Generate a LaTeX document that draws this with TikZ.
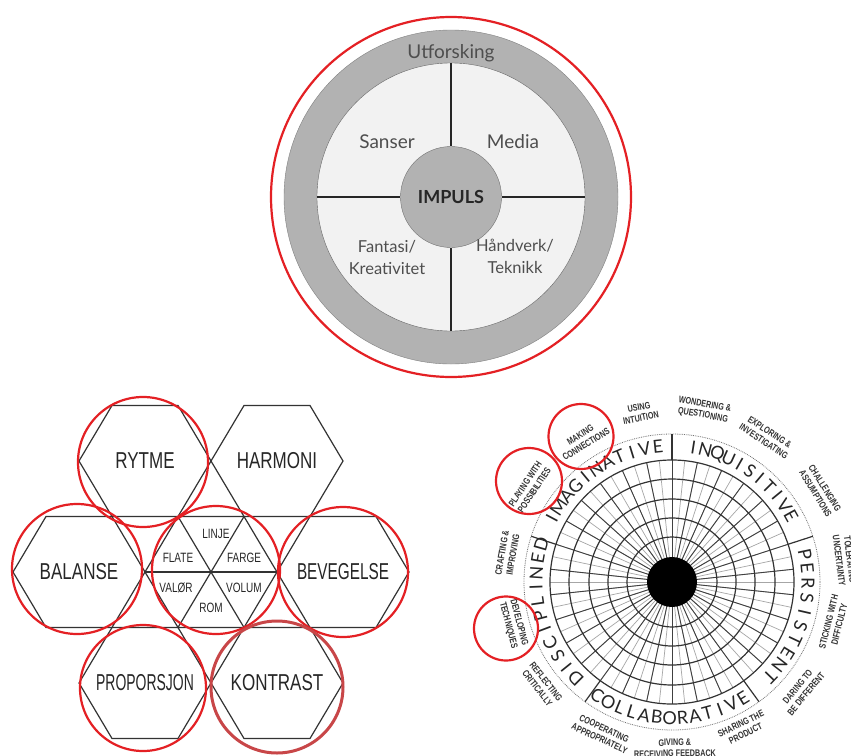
\documentclass[tikz,border=0pt]{standalone}
\usepackage{fontspec}
\setmainfont{Lato}
\newfontfamily\handfont[FakeStretch=0.74]{Liberation Sans}
\newfontfamily\habitfont[FakeStretch=0.76]{Liberation Sans}

\definecolor{ringred}{RGB}{228,32,36}
\definecolor{kontrastred}{RGB}{200,70,72}
\definecolor{bandgray}{RGB}{178,178,178}
\definecolor{fieldgray}{RGB}{242,242,242}
\definecolor{labelgray}{RGB}{78,78,78}

\tikzset{
  redring/.style={draw=ringred, line width=2.2pt},
  kontrastring/.style={draw=kontrastred, line width=3pt},
  crossline/.style={draw=black!85, line width=1.3pt},
  toptext/.style={font=\fontsize{19}{22}\selectfont, text=labelgray, inner sep=0pt},
  toptextsmall/.style={font=\fontsize{16.5}{22}\selectfont, text=labelgray, inner sep=0pt, align=center},
  hexline/.style={draw=black!80, line width=1.2pt},
  hexlabel/.style={font=\handfont\fontsize{23}{23}\selectfont, text=black!85, inner sep=0pt},
  hexsmall/.style={font=\handfont\fontsize{13.5}{13.5}\selectfont, text=black!85, inner sep=0pt},
  finespoke/.style={draw=black!35, line width=0.7pt},
  mainspoke/.style={draw=black!75, line width=0.9pt},
  gridring/.style={draw=black!80, line width=1.2pt},
  dotring/.style={draw=black!55, densely dotted, line width=0.8pt},
  bandletter/.style={font=\fontsize{18}{18}\selectfont, text=black!85, inner sep=0pt},
  habit/.style={font=\habitfont\bfseries\fontsize{9.5}{11}\selectfont, text=black!80, align=center, inner sep=0pt},
}

% letters of one habit set round the band of the wheel
\newcommand{\bandword}[6]{%
  \foreach \ch [count=\i] in {#5} {%
    \pgfmathsetmacro{\bandang}{#2-(#3)*(\i-(#4+1)/2)}%
    \node[bandletter, rotate=\bandang#6] (#1\i) at (\bandang:136) {\ch};
  }%
}

\begin{document}
\begin{tikzpicture}[x=1pt, y=-1pt]
  \useasboundingbox (0,0) rectangle (851,755);
  \fill[white] (0,0) rectangle (851,755);

  % Impuls wheel
  \draw[redring] (451,197) circle[radius=180];
  \filldraw[fill=bandgray, draw=gray] (451,197) circle[radius=167];
  \node[circle, fill=fieldgray, draw=gray!80!black, minimum size=268, inner sep=0pt] (field) at (451,197) {};
  \node[circle, fill=bandgray, draw=gray!90!black, minimum size=101, inner sep=0pt,
        font=\bfseries\fontsize{18}{18}\selectfont, text=black!85] (impuls) at (451,197) {IMPULS};
  \draw[crossline] (field.north) -- (impuls.north);
  \draw[crossline] (field.south) -- (impuls.south);
  \draw[crossline] (field.west) -- (impuls.west);
  \draw[crossline] (field.east) -- (impuls.east);
  \node[toptext] (utforsking) at (451,53) {Utforsking};
  \node[toptext] (sanser) at (387,142) {Sanser};
  \node[toptext] (media) at (513,142) {Media};
  \node[toptextsmall] (fantasi) at (387,257) {Fantasi/\\Kreativitet};
  \node[toptextsmall] (handverk) at (515,256) {Håndverk/\\Teknikk};

  % Hexagon flower
  \foreach \x/\y/\name/\word in {145/461/rytme/RYTME, 277/461/harmoni/HARMONI,
      79/572/balanse/BALANSE, 211/572/elements/{}, 343/572/bevegelse/{\scalebox{0.9}[1]{BEVEGELSE}},
      145/683/proporsjon/{\scalebox{0.82}[1]{PROPORSJON}}, 277/683/kontrast/KONTRAST}
  {
    \draw[hexline] (\x,\y) ++(-66,0) -- ++(33,-55.5) -- ++(66,0) -- ++(33,55.5)
      -- ++(-33,55.5) -- ++(-66,0) -- cycle;
    \node[hexlabel] (\name) at (\x,\y) {\word};
  }
  \draw[hexline] ([xshift=-66pt]elements.center) -- ([xshift=66pt]elements.center);
  \draw[hexline] ([shift={(-33,-55.5)}]elements.center) -- ([shift={(33,55.5)}]elements.center);
  \draw[hexline] ([shift={(33,-55.5)}]elements.center) -- ([shift={(-33,55.5)}]elements.center);
  \node[hexsmall] (linje) at ([shift={(5,-38)}]elements.center) {LINJE};
  \node[hexsmall] (flate) at ([shift={(-33,-14)}]elements.center) {FLATE};
  \node[hexsmall] (farge) at ([shift={(33,-14)}]elements.center) {FARGE};
  \node[hexsmall] (valor) at ([shift={(-35,16)}]elements.center) {VALØR};
  \node[hexsmall] (volum) at ([shift={(33,16)}]elements.center) {VOLUM};
  \node[hexsmall] (rom) at ([shift={(0,36)}]elements.center) {ROM};
  \draw[redring] (143,462) circle[radius=65];
  \draw[redring] (77,569) circle[radius=65];
  \draw[redring] (216,570) circle[radius=64];
  \draw[redring] (343,572) circle[radius=65];
  \draw[redring] (143,688) circle[radius=63];
  \draw[kontrastring] (277,687) circle[radius=66];

  % Creative habits wheel
  \begin{scope}[shift={(672,582)}, y=1pt]
    \foreach \a in {0,6,...,354} \draw[finespoke] (0,0) -- (\a:122);
    \foreach \a in {6,18,...,354} \draw[mainspoke] (0,0) -- (\a:122);
    \foreach \r in {45,64,83,103,122} \draw[gridring] (0,0) circle[radius=\r];
    \draw[dotring] (0,0) circle[radius=148];
    \foreach \a in {90,18,-54,-126,162} \draw[gridring] (\a:122) -- (\a:148);
    \node[circle, fill=black, minimum size=50, inner sep=0pt] (hub) at (0,0) {};

    \bandword{imag}{124}{5.6}{11}{I,M,A,G,I,N,A,T,I,V,E}{-90}
    \bandword{inq}{55}{5.2}{11}{I,N,Q,U,I,S,I,T,I,V,E}{-90}
    \bandword{pers}{-16}{6.2}{10}{P,E,R,S,I,S,T,E,N,T}{-90}
    \bandword{coll}{-91}{-5.4}{13}{C,O,L,L,A,B,O,R,A,T,I,V,E}{+90}
    \bandword{disc}{-165.5}{6.1}{11}{D,I,S,C,I,P,L,I,N,E,D}{-90}

    \foreach \a/\r/\name/\txt in {
        100.7/172.5/intuition/{USING\\INTUITION},
        79.5/175/wondering/{WONDERING \&\\QUESTIONING},
        56.9/173.5/exploring/{EXPLORING \&\\INVESTIGATING},
        31.6/174/challenging/{CHALLENGING\\ASSUMPTIONS},
        7.2/174/tolerating/{TOLERATING\\UNCERTAINTY},
        -14.2/167/sticking/{STICKING WITH\\DIFFICULTY},
        -39.8/169/daring/{DARING TO\\BE DIFFERENT},
        -64.1/163/sharing/{SHARING THE\\PRODUCT},
        -89/166/giving/{GIVING \&\\RECEIVING FEEDBACK},
        -114.8/167/cooperating/{COOPERATING\\APPROPRIATELY},
        -141.7/166/reflecting/{REFLECTING\\CRITICALLY},
        -165.2/164/developing/{DEVELOPING\\TECHNIQUES},
        170.2/167/crafting/{CRAFTING \&\\IMPROVING},
        146.3/171/playing/{PLAYING WITH\\POSSIBILITIES},
        121.9/168/making/{MAKING\\CONNECTIONS}}
    {
      \pgfmathsetmacro{\habitrot}{\a > 0 ? \a-90 : \a+90}
      \node[habit, rotate=\habitrot] (\name) at (\a:\r) {\txt};
    }
    \draw[redring] (-91,145.5) circle[radius=32.5];
    \draw[redring] (-143,101) circle[radius=33];
    \draw[redring] (-166,-46.5) circle[radius=32];
  \end{scope}
\end{tikzpicture}
\end{document}
